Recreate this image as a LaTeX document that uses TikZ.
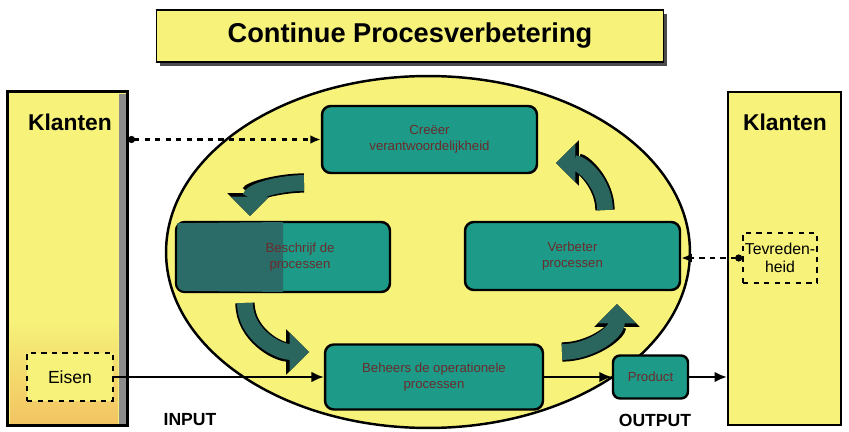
\documentclass[tikz,border=0pt]{standalone}
\usepackage{fontspec}
\setmainfont{Liberation Sans}
\usetikzlibrary{arrows.meta}

\definecolor{geel}{HTML}{F6F27A}
\definecolor{oranje}{HTML}{F2C462}
\definecolor{teal}{HTML}{1D9A88}
\definecolor{tealdark}{HTML}{2B6C68}
\definecolor{pijl}{HTML}{2A655E}
\definecolor{bruin}{HTML}{6A2C2C}

\tikzset{
  klantbox/.style={draw=black, line width=1.2pt, fill=geel},
  stapbox/.style={draw=black, line width=1.4pt, fill=teal, rounded corners=5pt,
    text=bruin, font=\fontsize{7.5}{9}\selectfont, align=center},
  labelbox/.style={draw=black, dashed, line width=0.9pt, fill=geel, align=center},
  bigarr/.style={line width=9pt, pijl,
    -{Triangle[length=11pt,width=21pt]},
    preaction={draw=black, line width=11pt, -{Triangle[length=13pt,width=25pt]}}},
  flow/.style={line width=1.2pt, -{Latex[length=7pt,width=6pt]}},
  feedback/.style={dashed, line width=1.2pt}
}

\begin{document}
\begin{tikzpicture}[x=0.02cm,y=-0.02cm]
    \useasboundingbox (0,0) rectangle (849,432);

    % titel
    \fill[black!70] (160,14) rectangle (667,66);
    \node[draw=black, line width=1pt, fill=geel, minimum width=10.14cm, minimum height=1.04cm,
      font=\bfseries\fontsize{15.5}{18}\selectfont] (titel) at (410,36) {Continue Procesverbetering};

    % de cyclus
    \draw[line width=1.4pt, fill=geel] (428,252) ellipse (5.24cm and 3.52cm);

    % klanten links en rechts
    \node[klantbox, minimum width=2.38cm, minimum height=6.66cm] (klantL) at (67.5,258.5) {};
    \shade[top color=geel, bottom color=oranje] (10,320) rectangle (118,423);
    \fill[black!45] (119,94) rectangle (126,424);
    \draw[line width=1.2pt] (klantL.south west) rectangle (klantL.north east);
    \node[font=\bfseries\fontsize{13}{15}\selectfont] (klantLtxt) at (70,122) {Klanten};

    \node[klantbox, minimum width=2.26cm, minimum height=6.66cm] (klantR) at (784.5,258.5) {};
    \node[font=\bfseries\fontsize{13}{15}\selectfont] (klantRtxt) at (785,122) {Klanten};

    \node[labelbox, minimum width=1.72cm, minimum height=0.96cm, font=\fontsize{10}{12}\selectfont] (eisen) at (70,377) {Eisen};
    \node[labelbox, minimum width=1.48cm, minimum height=1.0cm, inner sep=1pt,
      font=\fontsize{9}{10.5}\selectfont] (tevr) at (780,258) {Tevreden-\\heid};

    % de vier stappen
    \node[stapbox, minimum width=4.3cm, minimum height=1.34cm] (creeer) at (429.5,139.5) {Creëer\\verantwoordelijkheid};
    \node[stapbox, minimum width=4.28cm, minimum height=1.4cm] (beschrijf) at (283,257) {};
    \fill[tealdark] ([shift={(1.4pt,-1.4pt)}]beschrijf.north west) [rounded corners=4pt] -- ([shift={(1.4pt,1.4pt)}]beschrijf.south west)
      [sharp corners] -- ([yshift=0.7pt]beschrijf.south) -- ([yshift=-0.7pt]beschrijf.north) -- cycle;
    \node[text=bruin, font=\fontsize{7.5}{9}\selectfont, align=center] (beschrijftxt) at (300,257) {Beschrijf de\\processen};
    \node[stapbox, minimum width=4.3cm, minimum height=1.36cm] (verbeter) at (572.5,256) {Verbeter\\processen};
    \node[stapbox, minimum width=4.36cm, minimum height=1.3cm] (beheers) at (434,377) {Beheers de operationele\\processen};
    \node[stapbox, minimum width=1.5cm, minimum height=0.86cm, rounded corners=4pt] (product) at (650.5,377) {Product};

    % rondgaande pijlen
    \draw[bigarr] (304,183) to[out=180,in=90] (250,216);
    \draw[bigarr] (245,303) to[out=-90,in=180] (309,352);
    \draw[bigarr] (562,352) to[out=0,in=-90] (617,304);
    \draw[bigarr] (605,210) to[out=90,in=0] (556,163);

    % verbindingen
    \draw[feedback, {Circle[length=4pt]}-{Latex[length=6pt,width=5pt]}] (klantL.east |- creeer.west) -- (creeer.west);
    \draw[feedback, {Circle[length=4pt]}-{Latex[length=6pt,width=5pt]}] (tevr.west) -- (tevr.west -| verbeter.east);
    \draw[flow] (eisen.east) -- (eisen.east -| beheers.west);
    \draw[flow] (beheers.east) -- (product.west);
    \draw[flow] (product.east) -- (product.east -| klantR.west);

    \node[font=\bfseries\fontsize{10}{12}\selectfont] (input) at (190,420) {INPUT};
    \node[font=\bfseries\fontsize{10}{12}\selectfont] (output) at (655,420) {OUTPUT};
\end{tikzpicture}
\end{document}
